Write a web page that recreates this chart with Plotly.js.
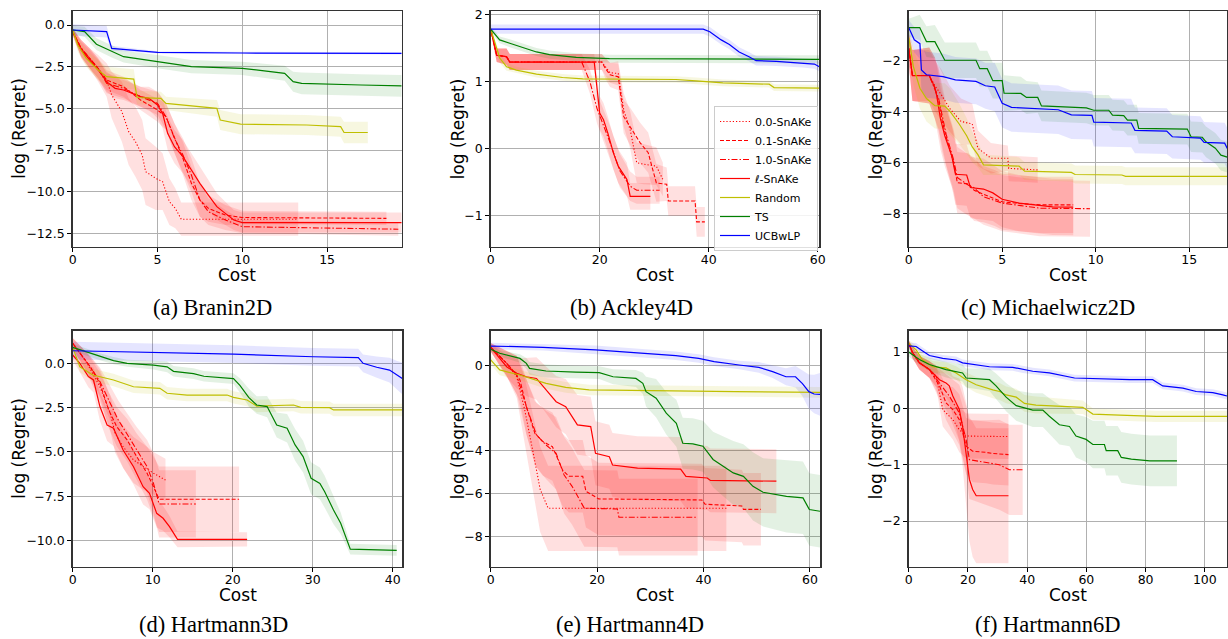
<!DOCTYPE html>
<html><head><meta charset="utf-8">
<script src="https://cdn.plot.ly/plotly-3.0.1.min.js"></script>
<style>html,body{margin:0;padding:0;background:#fff}#chart{width:1228px;height:639px}</style>
</head><body><div id="chart"></div>
<script>
// ---------------- DATA ----------------
const seriesNames = ['0.0-SnAKe','0.1-SnAKe','1.0-SnAKe','ℓ-SnAKe','Random','TS','UCBwLP'];
const panelCaptions = ['(a) Branin2D','(b) Ackley4D','(c) Michaelwicz2D','(d) Hartmann3D','(e) Hartmann4D','(f) Hartmann6D'];
const xTitle = 'Cost', yTitle = 'log (Regret)';

// (a) Branin2D
const a_d00_x=[0,0.5,1,1.5,2,2.3,2.9,3.3,3.7,4.1,4.3,4.9,5.3,5.7,6.05,6.4,13.3];
const a_d00_y=[-0.4,-1.4,-2.0,-2.6,-3.3,-4.2,-5.2,-6.4,-7.0,-7.8,-8.8,-9.2,-9.4,-10.6,-11.0,-11.65,-11.65];
const a_d00_s=[0.2,0.5,0.6,0.8,1.0,1.4,1.8,2.0,2.1,2.1,2.0,1.9,1.7,1.4,1.2,1.0,1.0];
const a_d01_x=[0,0.5,1,1.5,2,3,4,5,5.5,6,6.5,7,7.5,8,9,10,18.5];
const a_d01_y=[-0.4,-1.4,-2.0,-2.6,-3.3,-3.7,-4.5,-5.1,-5.5,-6.8,-8.0,-9.5,-10.5,-11.0,-11.4,-11.55,-11.6];
const a_d01_s=[0.2,0.5,0.6,0.6,0.6,0.6,0.6,0.7,0.8,0.9,1,1,1,0.8,0.6,0.4,0.4];
const a_d10_x=[0,0.5,1,1.5,2,3,4,5,5.5,6,6.5,7,7.5,8,9,10,19.2];
const a_d10_y=[-0.4,-1.4,-2.0,-2.6,-3.5,-3.8,-4.3,-4.7,-5.5,-6.8,-7.8,-9.0,-10.5,-11.2,-11.7,-12.1,-12.25];
const a_d10_s=[0.2,0.5,0.6,0.6,0.6,0.6,0.6,0.7,0.8,0.9,1,1,1,0.8,0.6,0.4,0.4];
const a_l_x=[0,0.5,1,1.5,2,2.5,3,3.5,4,4.5,5,5.3,5.6,6,6.5,7,7.5,8,8.5,9,9.5,10,19.4];
const a_l_y=[-0.4,-1.5,-2.1,-2.7,-3.4,-3.8,-3.9,-4.1,-4.3,-4.4,-4.8,-5.3,-6.5,-7.3,-7.9,-8.7,-9.5,-10.2,-10.9,-11.3,-11.7,-11.85,-11.85];
const a_l_s=[0.2,0.5,0.6,0.6,0.6,0.6,0.6,0.6,0.6,0.7,0.8,0.9,1.0,1.0,1.0,1.0,1.0,0.9,0.8,0.7,0.6,0.6,0.6];
const a_rnd_x=[0,0.3,0.8,1.5,2.0,3.6,3.8,5.2,5.5,8.5,8.7,9.9,13.8,15.8,16.0,17.4];
const a_rnd_y=[-0.3,-1.2,-2.0,-2.7,-3.1,-3.25,-4.35,-4.4,-4.7,-5.0,-5.7,-5.95,-6.0,-6.1,-6.45,-6.45];
const a_rnd_s=[0.2,0.4,0.5,0.6,0.6,0.6,0.4,0.4,0.4,0.5,0.6,0.6,0.6,0.6,0.65,0.65];
const a_ts_x=[0,0.7,1.4,2.3,3,5,7,10,12.5,13.0,13.5,17,19.4];
const a_ts_y=[-0.3,-0.4,-1.15,-1.6,-1.9,-2.2,-2.5,-2.6,-2.9,-3.4,-3.5,-3.6,-3.65];
const a_ts_s=[0.25,0.3,0.35,0.35,0.35,0.4,0.4,0.4,0.45,0.6,0.65,0.65,0.65];
const a_ucb_x=[0,2.0,2.3,3.5,5,10,19.4];
const a_ucb_y=[-0.3,-0.4,-1.4,-1.5,-1.64,-1.68,-1.7];
const a_ucb_s=[0.35,0.35,0.15,0.1,0.07,0.07,0.07];

// (b) Ackley4D
const b_d00_x=[0,1.1,2.9,3.5,20.4,21.9,23.4,24.4,25.6,26.8,28,30.4,31.6];
const b_d00_y=[1.78,1.39,1.37,1.29,1.29,1.13,1.12,0.58,0.28,-0.21,-0.23,-0.26,-0.46];
const b_d00_s=[0.03,0.1,0.12,0.12,0.12,0.15,0.18,0.25,0.28,0.3,0.3,0.28,0.25];
const b_d01_x=[0,1.1,2.9,3.5,20.4,21,21.9,23.4,24.4,25.6,27.4,28.9,30.4,32.3,32.6,37.5,37.8,39.3];
const b_d01_y=[1.78,1.39,1.37,1.29,1.29,1.20,1.10,1.07,0.48,0.33,0.09,-0.06,-0.51,-0.53,-0.78,-0.78,-1.09,-1.09];
const b_d01_s=[0.03,0.1,0.12,0.12,0.12,0.15,0.18,0.2,0.25,0.28,0.3,0.3,0.28,0.25,0.22,0.22,0.22,0.22];
const b_d10_x=[0,1.1,2.9,3.5,16.7,18.2,19.5,21.9,23.7,25.6,26.8,31];
const b_d10_y=[1.78,1.39,1.37,1.29,1.29,1.0,0.6,0.09,-0.33,-0.56,-0.62,-0.62];
const b_d10_s=[0.03,0.1,0.12,0.12,0.12,0.18,0.22,0.25,0.25,0.22,0.2,0.2];
const b_l_x=[0,1.1,2.9,3.5,19.0,19.5,20,20.7,21.5,22.5,23.4,25,25.6,29.3];
const b_l_y=[1.78,1.39,1.37,1.29,1.29,0.92,0.53,0.43,0.23,-0.06,-0.26,-0.46,-0.71,-0.71];
const b_l_s=[0.03,0.1,0.12,0.12,0.12,0.2,0.25,0.25,0.25,0.25,0.25,0.25,0.2,0.2];
const b_rnd_x=[0,1.65,2.9,4.7,8.4,13.2,16.9,34,37.7,42.6,51.1,52,60.3];
const b_rnd_y=[1.78,1.35,1.22,1.17,1.11,1.06,1.04,1.03,1.01,0.98,0.96,0.91,0.90];
const b_rnd_s=[0.03,0.07,0.06,0.05,0.05,0.05,0.05,0.05,0.05,0.05,0.05,0.05,0.05];
const b_ts_x=[0,1.65,3.5,5.3,8.4,10.8,15.7,21.8,60.3];
const b_ts_y=[1.78,1.62,1.57,1.52,1.44,1.40,1.36,1.34,1.33];
const b_ts_s=[0.03,0.05,0.06,0.06,0.06,0.06,0.06,0.06,0.06];
const b_ucb_x=[0,39,40.2,42.3,43.8,45.6,47.4,48.7,52.4,57.2,59.4,60.3];
const b_ucb_y=[1.78,1.78,1.74,1.62,1.55,1.44,1.37,1.31,1.30,1.28,1.26,1.22];
const b_ucb_s=[0.07,0.07,0.07,0.07,0.07,0.07,0.07,0.07,0.07,0.07,0.07,0.07];

// (c) Michaelwicz2D
const c_d00_x=[0,0.2,1.1,1.4,1.75,2.2,2.8,3.4,3.7,4.4,5.3,5.35,6.9];
const c_d00_y=[-1.53,-2.6,-2.6,-3.0,-3.36,-3.9,-4.4,-4.5,-5.45,-5.84,-5.84,-6.24,-6.3];
const c_d00_s=[0.6,1.0,1.0,1.0,1.0,0.9,0.9,0.8,0.7,0.6,0.5,0.5,0.5];
const c_d01_x=[0,0.2,1.1,1.4,1.6,1.8,2.0,2.2,2.4,2.6,3.2,3.5,4.0,4.6,5.0,6.0,7.0,8.8];
const c_d01_y=[-1.53,-2.6,-2.6,-3.1,-3.6,-4.4,-5.0,-5.5,-6.0,-6.8,-6.85,-7.1,-7.25,-7.4,-7.55,-7.62,-7.67,-7.67];
const c_d01_s=[0.6,1.0,1.1,1.2,1.2,1.2,1.2,1.2,1.2,1.2,1.2,1.2,1.1,1.1,1.1,1.1,1.1,1.1];
const c_d10_x=[0,0.2,1.1,1.4,1.6,1.8,2.0,2.2,2.4,2.6,3.2,3.5,4.0,4.6,5.0,6.0,7.0,9.7];
const c_d10_y=[-1.53,-2.6,-2.6,-3.1,-3.5,-4.2,-4.9,-5.4,-5.9,-6.6,-6.9,-7.0,-7.35,-7.5,-7.6,-7.7,-7.8,-7.82];
const c_d10_s=[0.6,1.0,1.1,1.2,1.2,1.2,1.2,1.2,1.2,1.2,1.2,1.2,1.1,1.1,1.1,1.1,1.1,1.1];
const c_l_x=[0,0.2,1.1,1.4,1.5,1.7,1.93,2.1,2.3,2.5,3.1,3.3,4.0,4.5,5.0,5.9,6.8,7.7,8.8];
const c_l_y=[-1.53,-2.6,-2.6,-3.07,-3.4,-4.3,-4.96,-5.35,-5.75,-6.47,-6.5,-6.99,-7.05,-7.2,-7.45,-7.6,-7.67,-7.75,-7.76];
const c_l_s=[0.6,1.0,1.1,1.2,1.2,1.2,1.2,1.2,1.2,1.2,1.2,1.2,1.2,1.1,1.1,1.1,1.1,1.1,1.1];
const c_rnd_x=[0,0.25,0.6,0.95,1.4,1.93,2.2,2.7,3.1,3.4,3.7,4.0,5.9,6.2,8.7,8.9,11.4,11.6,17.04];
const c_rnd_y=[-1.1,-2.25,-3.1,-3.5,-3.78,-3.8,-4.0,-4.5,-4.96,-5.4,-5.7,-6.1,-6.15,-6.35,-6.4,-6.48,-6.5,-6.55,-6.55];
const c_rnd_s=[0.4,0.7,0.8,0.9,0.9,0.9,0.9,0.8,0.7,0.6,0.5,0.4,0.35,0.35,0.35,0.35,0.35,0.35,0.35];
const c_ts_x=[0,0.59,0.95,1.4,1.93,3.6,3.8,4.2,4.5,5.0,5.1,6.0,6.3,6.9,7.1,9.5,9.9,10.7,10.9,11.5,11.7,12.2,12.3,14.9,15.1,15.7,15.9,16.4,16.7,17.04];
const c_ts_y=[-0.72,-0.72,-1.27,-1.27,-2.0,-2.0,-2.33,-2.33,-2.8,-2.8,-3.29,-3.3,-3.46,-3.46,-3.79,-3.87,-3.96,-3.96,-4.15,-4.17,-4.35,-4.35,-4.67,-4.7,-5.0,-5.02,-5.2,-5.45,-5.72,-5.8];
const c_ts_s=[0.35,0.5,0.6,0.65,0.7,0.7,0.7,0.7,0.7,0.7,0.7,0.65,0.65,0.6,0.6,0.6,0.6,0.6,0.6,0.6,0.6,0.6,0.6,0.6,0.6,0.6,0.6,0.6,0.6,0.6];
const c_ucb_x=[0,0.3,0.6,0.68,0.95,1.84,2.5,3.6,4.1,4.6,5.0,5.5,8.0,8.7,9.8,9.9,11.9,12.1,13.8,14.1,15.6,15.8,16.9,17.04];
const c_ucb_y=[-0.72,-1.2,-1.35,-2.38,-2.57,-2.64,-2.77,-2.83,-3.0,-3.05,-3.69,-3.85,-3.94,-4.14,-4.16,-4.43,-4.46,-4.75,-4.78,-5.0,-5.05,-5.22,-5.25,-5.46];
const c_ucb_s=[0.3,0.5,0.6,0.8,0.9,0.9,0.9,0.9,0.9,0.95,0.95,0.95,0.95,0.95,0.95,0.95,0.95,0.9,0.9,0.85,0.85,0.8,0.8,0.8];

// (d) Hartmann3D
const d_d00_x=[0,1.8,3.4,4.7,5.3,6.3,7.6,8.8,10.1,11.6];
const d_d00_y=[1.13,0.0,-1.32,-2.82,-3.95,-4.7,-5.45,-5.83,-6.2,-6.58];
const d_d00_s=[0.3,0.6,0.8,1.0,1.1,1.2,1.3,1.3,1.2,1.2];
const d_d01_x=[0,2.2,3.4,4.5,5.5,6.8,8.0,9.3,10.1,10.8,20.8];
const d_d01_y=[1.13,-0.2,-1.13,-2.63,-3.57,-4.32,-5.26,-6.2,-6.96,-7.67,-7.67];
const d_d01_s=[0.3,0.6,0.8,1.0,1.1,1.2,1.3,1.5,1.7,1.85,1.85];
const d_d10_x=[0,2.2,3.4,4.7,5.7,7.0,8.0,9.3,10.1,10.8,15.4];
const d_d10_y=[1.13,-0.2,-1.03,-2.25,-3.2,-4.14,-4.89,-5.83,-6.77,-7.93,-7.93];
const d_d10_s=[0.3,0.6,0.8,1.0,1.1,1.2,1.3,1.5,1.7,1.9,1.9];
const d_l_x=[0,0.9,1.96,2.6,3.4,4.3,5.1,6.3,7.6,8.8,9.6,10.5,11.3,12.1,13.1,21.8];
const d_l_y=[0.47,0.0,-0.75,-0.94,-2.44,-3.48,-3.66,-4.89,-5.83,-6.96,-7.33,-8.46,-8.74,-9.21,-9.93,-9.93];
const d_l_s=[0.3,0.5,0.6,0.7,0.8,0.9,1.0,1.0,1.0,1.0,0.9,0.8,0.7,0.6,0.45,0.4];
const d_rnd_x=[0,0.9,2.5,5.1,7.6,10.9,11.8,14.3,19.3,20.1,21.8,23,27.6,28.5,32.1,32.6,41.2];
const d_rnd_y=[0.9,-0.2,-0.66,-0.94,-1.32,-1.41,-1.69,-1.79,-1.79,-1.92,-2.07,-2.41,-2.35,-2.48,-2.5,-2.63,-2.63];
const d_rnd_s=[0.2,0.3,0.35,0.35,0.35,0.35,0.35,0.35,0.35,0.35,0.35,0.35,0.35,0.35,0.35,0.35,0.35];
const d_ts_x=[0,3.4,5.1,6.8,10.1,11.8,12.6,15.1,16.4,20.1,20.9,22,23,24.3,25.5,26.8,27.8,28.8,29.8,30.9,31.5,32.6,33.5,34.7,40.5];
const d_ts_y=[0.9,0.37,0.15,0.0,-0.1,-0.2,-0.45,-0.58,-0.73,-0.86,-1.24,-1.92,-2.35,-2.44,-3.48,-3.66,-4.6,-5.26,-6.48,-6.77,-7.24,-8.27,-9.02,-10.48,-10.55];
const d_ts_s=[0.2,0.2,0.2,0.2,0.25,0.3,0.3,0.3,0.3,0.3,0.4,0.5,0.5,0.6,0.7,0.8,0.9,0.9,0.9,0.9,0.9,0.8,0.6,0.3,0.3];
const d_ucb_x=[0,10.1,20.1,30.1,35.7,36.3,38,39.6,40.5,41.2];
const d_ucb_y=[0.71,0.62,0.52,0.37,0.32,0.0,-0.22,-0.38,-0.66,-0.85];
const d_ucb_s=[0.5,0.5,0.5,0.5,0.5,0.5,0.6,0.7,0.8,0.9];

// (e) Hartmann4D
const e_d00_x=[0,3,4.9,6.4,8,9.3,10.8,44.3];
const e_d00_y=[0.86,0.11,-0.52,-2.08,-4.11,-5.8,-6.69,-6.69];
const e_d00_s=[0.2,0.6,1.0,1.5,1.8,2.0,2.0,2.0];
const e_d01_x=[0,3,4.9,5.5,6.7,8.3,9.8,11.6,13.5,14.7,17.3,17.9,20.3,39.7,40.3,47.2,47.5,50.8];
const e_d01_y=[0.86,0.11,-0.45,-0.67,-1.92,-3.17,-3.56,-3.8,-4.89,-5.19,-5.19,-5.89,-6.25,-6.3,-6.5,-6.58,-6.74,-6.74];
const e_d01_s=[0.2,0.6,0.9,1,1.3,1.5,1.6,1.6,1.7,1.7,1.7,1.7,1.7,1.7,1.7,1.7,1.7,1.7];
const e_d10_x=[0,3,4.9,6.7,8.6,10.4,12.3,13.8,15.3,16.3,17.6,23.8,24.1,38.9];
const e_d10_y=[0.86,0.11,-0.45,-1.92,-3.25,-3.72,-4.11,-5.13,-5.66,-6.13,-6.69,-6.72,-7.11,-7.11];
const e_d10_s=[0.2,0.6,0.9,1.3,1.5,1.6,1.7,1.8,1.8,1.8,1.8,1.8,1.8,1.8];
const e_l_x=[0,3,4.9,6.7,8.6,10.4,12.3,14.1,16.3,18.8,19.7,22.3,22.9,27.6,35.7,36.7,40.7,41.3,53.7];
const e_l_y=[0.86,-0.05,-0.36,-0.52,-0.6,-1.14,-1.69,-1.92,-2.78,-2.86,-4.11,-4.27,-4.66,-4.81,-4.85,-5.19,-5.27,-5.38,-5.42];
const e_l_s=[0.2,0.5,0.7,0.9,1.0,1.1,1.2,1.3,1.4,1.4,1.5,1.5,1.5,1.5,1.5,1.5,1.5,1.5,1.5];
const e_rnd_x=[0,1.7,5.5,10.4,14.1,18.5,46,61.9];
const e_rnd_y=[0.27,-0.2,-0.44,-0.83,-1.02,-1.14,-1.22,-1.25];
const e_rnd_s=[0.2,0.25,0.25,0.25,0.25,0.25,0.25,0.25];
const e_ts_x=[0,1.7,5.5,6.7,7.3,10.4,16,20.4,23,27.3,28.6,29.2,31.1,33,34.9,36.1,38,39.9,41.8,43.7,45.6,47.5,49.3,51.2,55.6,58.7,59.9,61.9];
const e_ts_y=[0.77,0.58,0.34,0.11,-0.13,-0.25,-0.3,-0.33,-0.52,-0.6,-0.83,-1.22,-1.53,-2.23,-2.7,-3.64,-3.67,-3.78,-4.4,-4.72,-5.03,-5.19,-5.66,-5.94,-6.13,-6.2,-6.75,-6.83];
const e_ts_s=[0.1,0.15,0.2,0.25,0.3,0.3,0.3,0.3,0.35,0.4,0.5,0.7,0.9,1.0,1.1,1.2,1.2,1.2,1.3,1.4,1.5,1.5,1.6,1.6,1.7,1.7,1.7,1.7];
const e_ucb_x=[0,9.8,19.7,28.5,34.8,39.1,42,46.7,50.4,53,55.5,57.3,58.6,59.8,60.8,61.9];
const e_ucb_y=[0.92,0.86,0.74,0.58,0.47,0.34,0.19,0.03,-0.08,-0.28,-0.52,-0.52,-0.84,-1.22,-1.33,-1.35];
const e_ucb_s=[0.15,0.15,0.2,0.2,0.2,0.2,0.2,0.2,0.25,0.3,0.4,0.5,0.6,0.8,0.9,1.0];

// (f) Hartmann6D
const f_d00_x=[0,1.3,3.6,7,9.3,11.5,14.9,17.1,19.4,33.7];
const f_d00_y=[1.16,0.99,0.81,0.69,0.57,-0.02,-0.2,-0.38,-0.49,-0.5];
const f_d00_s=[0.05,0.1,0.12,0.15,0.2,0.3,0.35,0.4,0.4,0.4];
const f_d01_x=[0,1.3,3.6,7,10.4,12.6,14.9,17.1,19.4,21.6,26.1,28.4,33.7];
const f_d01_y=[1.16,0.99,0.81,0.69,0.4,0.1,-0.02,-0.2,-0.67,-0.76,-0.78,-0.8,-0.82];
const f_d01_s=[0.05,0.1,0.12,0.15,0.25,0.3,0.4,0.45,0.5,0.55,0.55,0.55,0.55];
const f_d10_x=[0,1.3,3.6,7,10.4,13.7,17.1,19.4,20.5,26.1,30.6,34,38.5];
const f_d10_y=[1.16,0.99,0.81,0.69,0.45,0.22,-0.08,-0.55,-0.91,-0.96,-1.0,-1.09,-1.09];
const f_d10_s=[0.05,0.1,0.12,0.15,0.25,0.35,0.5,0.6,0.7,0.75,0.8,0.8,0.8];
const f_l_x=[0,1.3,3.6,7,10.4,12.6,13.7,14.9,16,17.1,18.2,19.4,20.5,21.6,22.8,33.7];
const f_l_y=[1.16,0.99,0.81,0.69,0.51,0.45,0.4,0.22,0.1,-0.02,-0.32,-0.79,-1.26,-1.44,-1.55,-1.55];
const f_l_s=[0.05,0.1,0.12,0.15,0.2,0.25,0.3,0.35,0.45,0.55,0.7,0.9,1.1,1.2,1.2,1.2];
const f_rnd_x=[0,2.5,4.7,8.1,12.6,16,19.4,22.8,28.4,30.7,32.9,36.3,39.1,43,58.8,62.2,71.2,83.6,107.5];
const f_rnd_y=[1.16,1.04,0.86,0.74,0.72,0.63,0.51,0.42,0.33,0.3,0.24,0.2,0.09,0.06,0.02,-0.1,-0.12,-0.14,-0.14];
const f_rnd_s=[0.05,0.08,0.1,0.1,0.1,0.12,0.13,0.14,0.15,0.15,0.15,0.15,0.15,0.15,0.12,0.1,0.1,0.1,0.1];
const f_ts_x=[0,3.6,7,12.6,18.2,19.4,27.3,29.5,32.9,36.3,41.9,45.3,47.5,50.9,54.3,56.5,59.9,62.2,66.1,66.7,70.6,71.8,75.2,81.4,90.6];
const f_ts_y=[1.0,0.87,0.78,0.69,0.63,0.54,0.51,0.4,0.2,0.05,-0.03,-0.03,-0.14,-0.29,-0.32,-0.49,-0.55,-0.64,-0.64,-0.75,-0.75,-0.87,-0.9,-0.93,-0.93];
const f_ts_s=[0.08,0.1,0.12,0.14,0.15,0.17,0.2,0.22,0.25,0.27,0.3,0.3,0.32,0.35,0.35,0.38,0.4,0.42,0.42,0.44,0.44,0.45,0.45,0.45,0.45];
const f_ucb_x=[0,2.5,4.7,7,11.5,16,18.2,23.9,27.3,35.1,38.5,41.9,47.5,56,74.6,82.4,85.8,92.6,97.1,102.7,106.1,107.5];
const f_ucb_y=[1.11,1.1,1.02,0.94,0.89,0.86,0.81,0.77,0.74,0.73,0.69,0.66,0.63,0.54,0.51,0.51,0.4,0.36,0.3,0.28,0.24,0.22];
const f_ucb_s=[0.06,0.06,0.06,0.06,0.06,0.06,0.06,0.06,0.06,0.06,0.06,0.06,0.06,0.06,0.06,0.06,0.06,0.06,0.06,0.06,0.06,0.06];

// axis tick values
const a_xticks=[0,5,10,15],  a_yticks=[0,-2.5,-5,-7.5,-10,-12.5];
const b_xticks=[0,20,40,60], b_yticks=[-1,0,1,2];
const c_xticks=[0,5,10,15],  c_yticks=[-2,-4,-6,-8];
const d_xticks=[0,10,20,30,40], d_yticks=[0,-2.5,-5,-7.5,-10];
const e_xticks=[0,20,40,60], e_yticks=[0,-2,-4,-6,-8];
const f_xticks=[0,20,40,60,80,100], f_yticks=[1,0,-1,-2];

// ---------------- BUILD ----------------
const W=1228,H=639;
const styles=[
  {color:'#ff0000',dash:'1.2px,2px',      width:1.1, fill:'rgba(255,0,0,0.12)'},
  {color:'#ff0000',dash:'4px,2px',        width:1.1, fill:'rgba(255,0,0,0.12)'},
  {color:'#ff0000',dash:'6px,2px,1.5px,2px', width:1.1, fill:'rgba(255,0,0,0.12)'},
  {color:'#ff0000',dash:'solid',          width:1.2, fill:'rgba(255,0,0,0.12)'},
  {color:'#bfbf00',dash:'solid',          width:1.2, fill:'rgba(191,191,0,0.12)'},
  {color:'#008000',dash:'solid',          width:1.2, fill:'rgba(0,128,0,0.11)'},
  {color:'#0000ff',dash:'solid',          width:1.2, fill:'rgba(0,0,255,0.10)'}
];
const panels=[
  {s:[[a_d00_x,a_d00_y,a_d00_s],[a_d01_x,a_d01_y,a_d01_s],[a_d10_x,a_d10_y,a_d10_s],[a_l_x,a_l_y,a_l_s],[a_rnd_x,a_rnd_y,a_rnd_s],[a_ts_x,a_ts_y,a_ts_s],[a_ucb_x,a_ucb_y,a_ucb_s]],
   px:[72.7,401.7],py:[11,246.7],xr:[0,19.4],yr:[-13.3,0.84],xt:a_xticks,yt:a_yticks,fmt:'.1f',cap:[212,307],yl:19,xl:275},
  {s:[[b_d00_x,b_d00_y,b_d00_s],[b_d01_x,b_d01_y,b_d01_s],[b_d10_x,b_d10_y,b_d10_s],[b_l_x,b_l_y,b_l_s],[b_rnd_x,b_rnd_y,b_rnd_s],[b_ts_x,b_ts_y,b_ts_s],[b_ucb_x,b_ucb_y,b_ucb_s]],
   px:[490.7,819.3],py:[11,246.7],xr:[0,60.3],yr:[-1.46,2.05],xt:b_xticks,yt:b_yticks,fmt:'',cap:[631,307],yl:457.5,xl:275},
  {s:[[c_d00_x,c_d00_y,c_d00_s],[c_d01_x,c_d01_y,c_d01_s],[c_d10_x,c_d10_y,c_d10_s],[c_l_x,c_l_y,c_l_s],[c_rnd_x,c_rnd_y,c_rnd_s],[c_ts_x,c_ts_y,c_ts_s],[c_ucb_x,c_ucb_y,c_ucb_s]],
   px:[908.7,1227.3],py:[11,246.7],xr:[0,17.04],yr:[-9.31,-0.07],xt:c_xticks,yt:c_yticks,fmt:'',cap:[1048,307],yl:875.5,xl:275},
  {s:[[d_d00_x,d_d00_y,d_d00_s],[d_d01_x,d_d01_y,d_d01_s],[d_d10_x,d_d10_y,d_d10_s],[d_l_x,d_l_y,d_l_s],[d_rnd_x,d_rnd_y,d_rnd_s],[d_ts_x,d_ts_y,d_ts_s],[d_ucb_x,d_ucb_y,d_ucb_s]],
   px:[72.7,402.3],py:[330.7,566.7],xr:[0,41.2],yr:[-11.47,1.84],xt:d_xticks,yt:d_yticks,fmt:'.1f',cap:[213,624],yl:19,xl:595},
  {s:[[e_d00_x,e_d00_y,e_d00_s],[e_d01_x,e_d01_y,e_d01_s],[e_d10_x,e_d10_y,e_d10_s],[e_l_x,e_l_y,e_l_s],[e_rnd_x,e_rnd_y,e_rnd_s],[e_ts_x,e_ts_y,e_ts_s],[e_ucb_x,e_ucb_y,e_ucb_s]],
   px:[490.7,820],py:[330.7,566.7],xr:[0,61.9],yr:[-9.43,1.64],xt:e_xticks,yt:e_yticks,fmt:'',cap:[630,624],yl:457.5,xl:595},
  {s:[[f_d00_x,f_d00_y,f_d00_s],[f_d01_x,f_d01_y,f_d01_s],[f_d10_x,f_d10_y,f_d10_s],[f_l_x,f_l_y,f_l_s],[f_rnd_x,f_rnd_y,f_rnd_s],[f_ts_x,f_ts_y,f_ts_s],[f_ucb_x,f_ucb_y,f_ucb_s]],
   px:[908.7,1227.3],py:[330.7,566.7],xr:[0,107.6],yr:[-2.81,1.38],xt:f_xticks,yt:f_yticks,fmt:'',cap:[1048,624],yl:875.5,xl:595}
];

const bands=[],lines=[];
const layout={
  width:W,height:H,margin:{l:0,r:0,t:0,b:0},paper_bgcolor:'#fff',plot_bgcolor:'#fff',
  font:{family:'DejaVu Sans',color:'#000',size:12.5},
  showlegend:true,
  legend:{x:714/W,y:1-106/H,xanchor:'left',yanchor:'top',bgcolor:'rgba(255,255,255,0.85)',bordercolor:'#cccccc',borderwidth:1,
          font:{family:'DejaVu Sans',size:11,color:'#000'},tracegroupgap:0},
  annotations:[]
};
panels.forEach((p,i)=>{
  const n=i+1, xa='x'+(i?n:''), ya='y'+(i?n:'');
  p.s.forEach((d,j)=>{
    const [x,y,s]=d, st=styles[j];
    const up=y.map((v,k)=>v+s[k]), dn=y.map((v,k)=>v-s[k]);
    bands.push({x:x.concat(x.slice().reverse()),y:up.concat(dn.slice().reverse()),xaxis:xa,yaxis:ya,
      type:'scatter',mode:'lines',fill:'toself',fillcolor:st.fill,line:{width:0,color:st.fill},hoverinfo:'skip',showlegend:false});
    lines.push({x:x,y:y,xaxis:xa,yaxis:ya,type:'scatter',mode:'lines',name:seriesNames[j],
      line:{color:st.color,dash:st.dash,width:st.width},showlegend:(i===1)});
  });
  const common={showline:true,mirror:true,linecolor:'#333',linewidth:1.5,showgrid:true,gridcolor:'#b0b0b0',gridwidth:1,
    zeroline:false,ticks:'outside',ticklen:4,tickcolor:'#000',tickfont:{family:'DejaVu Sans',size:12.5,color:'#000'},tickmode:'array'};
  layout['xaxis'+(i?n:'')]=Object.assign({},common,{domain:[p.px[0]/W,p.px[1]/W],range:p.xr,tickvals:p.xt,anchor:ya,ticklabelstandoff:-3});
  layout['yaxis'+(i?n:'')]=Object.assign({},common,{domain:[1-p.py[1]/H,1-p.py[0]/H],range:p.yr,tickvals:p.yt,tickformat:p.fmt,anchor:xa});
  // axis titles
  layout.annotations.push({text:xTitle,xref:'paper',yref:'paper',x:(p.px[0]+p.px[1])/2/W,y:1-p.xl/H,xanchor:'center',yanchor:'middle',
    showarrow:false,borderpad:0,font:{family:'DejaVu Sans',size:17,color:'#000'}});
  layout.annotations.push({text:yTitle,xref:'paper',yref:'paper',x:p.yl/W,y:1-(p.py[0]+p.py[1])/2/H,xanchor:'center',yanchor:'middle',
    textangle:-90,showarrow:false,font:{family:'DejaVu Sans',size:17,color:'#000'}});
  layout.annotations.push({text:panelCaptions[i],xref:'paper',yref:'paper',x:p.cap[0]/W,y:1-p.cap[1]/H,xanchor:'center',yanchor:'middle',
    showarrow:false,font:{family:'Liberation Serif',size:22.5,color:'#000'}});
});
Plotly.newPlot('chart',bands.concat(lines),layout,{displayModeBar:false,staticPlot:true});
</script></body></html>
